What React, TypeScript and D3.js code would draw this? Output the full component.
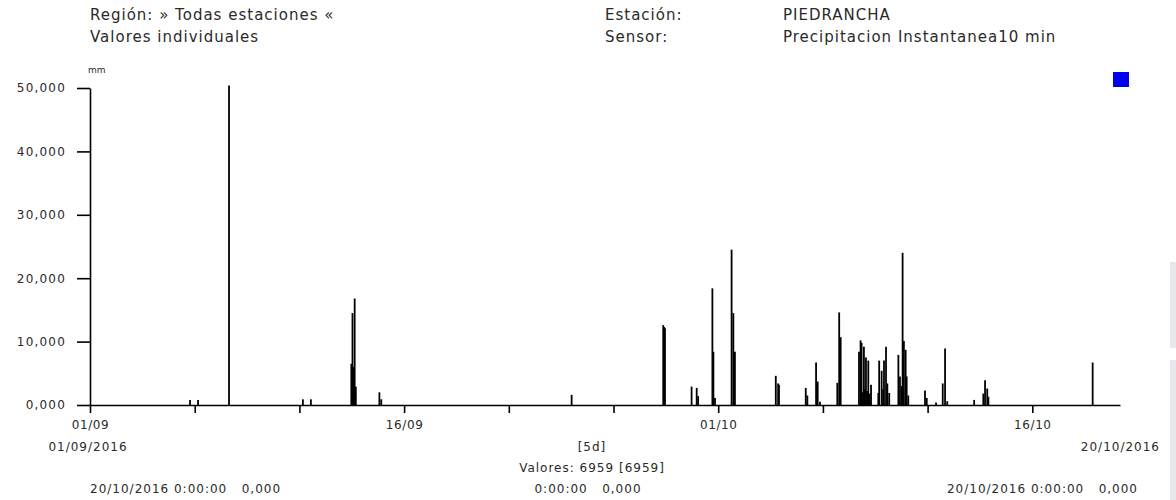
import { useEffect, useRef } from "react";
import * as d3 from "d3";

// precipitacion 10 min, PIEDRANCHA (solo valores > 0)
const fechas = [
  "2016-09-05 18:40", "2016-09-06 03:50", "2016-09-07 15:20", "2016-09-11 04:00", "2016-09-11 13:10",
  "2016-09-13 11:30", "2016-09-13 12:50", "2016-09-13 14:00", "2016-09-13 15:20", "2016-09-13 16:40",
  "2016-09-14 19:40", "2016-09-14 21:50", "2016-09-24 00:00",
  "2016-09-28 09:00", "2016-09-28 10:00", "2016-09-28 11:00",
  "2016-09-29 17:30", "2016-09-29 23:20", "2016-09-30 01:00",
  "2016-09-30 17:20", "2016-09-30 18:30", "2016-09-30 20:20",
  "2016-10-01 15:20", "2016-10-01 17:20", "2016-10-01 19:10",
  "2016-10-03 18:00", "2016-10-03 20:40", "2016-10-03 21:40",
  "2016-10-05 04:20", "2016-10-05 06:10", "2016-10-05 16:10", "2016-10-05 18:00", "2016-10-05 20:40",
  "2016-10-06 16:30", "2016-10-06 18:40", "2016-10-06 20:20",
  "2016-10-07 17:20", "2016-10-07 19:10", "2016-10-07 20:20", "2016-10-07 21:40", "2016-10-07 23:00",
  "2016-10-08 00:10", "2016-10-08 01:20", "2016-10-08 02:40", "2016-10-08 04:00", "2016-10-08 05:30",
  "2016-10-08 07:10", "2016-10-08 15:30", "2016-10-08 16:30", "2016-10-08 19:20", "2016-10-08 21:00",
  "2016-10-08 22:00", "2016-10-09 00:20", "2016-10-09 01:50", "2016-10-09 04:00",
  "2016-10-09 14:30", "2016-10-09 16:20", "2016-10-09 18:10", "2016-10-09 19:20", "2016-10-09 20:50",
  "2016-10-09 22:50", "2016-10-10 00:00", "2016-10-10 01:50",
  "2016-10-10 21:00", "2016-10-10 23:00", "2016-10-11 09:40",
  "2016-10-11 17:20", "2016-10-11 20:00", "2016-10-11 22:30",
  "2016-10-13 05:20", "2016-10-13 15:50", "2016-10-13 17:50", "2016-10-13 20:20", "2016-10-13 21:40",
  "2016-10-18 21:10",
];
const valores = [
  0.8, 0.8, 50.4, 0.9, 0.9,
  6.5, 14.5, 6.0, 16.8, 2.9,
  2.0, 0.9, 1.6,
  12.6, 12.3, 12.1,
  2.9, 2.7, 1.4,
  18.4, 8.4, 1.1,
  24.5, 14.5, 8.4,
  4.6, 3.4, 3.2,
  2.7, 1.5, 6.7, 3.7, 0.5,
  3.5, 14.6, 10.7,
  8.4, 10.2, 9.8, 2.0, 9.2,
  2.5, 7.5, 2.2, 7.0, 1.8,
  3.2, 1.9, 7.0, 5.4, 2.5,
  7.0, 9.2, 3.4, 1.9,
  7.9, 4.5, 3.0, 24.0, 10.1,
  8.7, 4.5, 1.5,
  2.3, 1.1, 0.4,
  3.4, 8.9, 0.6,
  0.8, 1.8, 3.9, 2.6, 1.3,
  6.7,
];

const yTicks = [0, 10, 20, 30, 40, 50];
const xTicks = [
  "2016-09-01", "2016-09-06", "2016-09-11", "2016-09-16", "2016-09-21",
  "2016-09-26", "2016-10-01", "2016-10-06", "2016-10-11", "2016-10-16",
];
const xTickLabels = ["01/09", "", "", "16/09", "", "", "01/10", "", "", "16/10"];

const App = () => {
  const svgRef = useRef<SVGSVGElement>(null);

  useEffect(() => {
    const svg = d3.select(svgRef.current);
    svg.selectAll("*").remove();

    const font = "'DejaVu Sans', Verdana, sans-serif";
    const ink = "#2a2a2a";
    const parse = d3.timeParse("%Y-%m-%d %H:%M");
    const parseDay = d3.timeParse("%Y-%m-%d");
    const es = d3.formatLocale({ decimal: ",", thousands: ".", grouping: [3], currency: ["", ""] });
    const fmt = es.format(".3f");

    const x = d3
      .scaleTime()
      .domain([parseDay("2016-09-01") as Date, parse("2016-10-20 04:30") as Date])
      .range([90, 1120]);
    const y = d3.scaleLinear().domain([0, 50]).range([405, 88]);

    const data = fechas.map((f, i) => ({ t: parse(f) as Date, v: valores[i] }));

    // header
    const head = svg.append("g").attr("font-family", font).attr("font-size", 15).attr("fill", ink).attr("letter-spacing", 1);
    head.append("text").attr("x", 90).attr("y", 20).text("Región: » Todas estaciones «");
    head.append("text").attr("x", 90).attr("y", 42).text("Valores individuales");
    head.append("text").attr("x", 605).attr("y", 20).text("Estación:");
    head.append("text").attr("x", 605).attr("y", 42).text("Sensor:");
    head.append("text").attr("x", 783).attr("y", 20).text("PIEDRANCHA");
    head.append("text").attr("x", 783).attr("y", 42).text("Precipitacion Instantanea10 min");

    svg.append("text")
      .attr("x", 88).attr("y", 73)
      .attr("font-family", font).attr("font-size", 9).attr("fill", ink)
      .text("mm");

    // spikes
    svg.append("g")
      .selectAll("line")
      .data(data)
      .enter()
      .append("line")
      .attr("x1", (d) => x(d.t))
      .attr("x2", (d) => x(d.t))
      .attr("y1", y(0))
      .attr("y2", (d) => y(d.v))
      .attr("stroke", "#000")
      .attr("stroke-width", 1.8);

    // y axis
    const yAxis = svg.append("g")
      .attr("transform", "translate(90,0)")
      .call(d3.axisLeft(y).tickValues(yTicks).tickFormat((d) => fmt(d as number)).tickSize(13).tickSizeOuter(0).tickPadding(11));
    yAxis.selectAll("text").attr("font-family", font).attr("font-size", 12).attr("fill", ink).attr("letter-spacing", 1.2);

    // x axis
    const xAxis = svg.append("g")
      .attr("transform", `translate(0,${y(0)})`)
      .call(
        d3.axisBottom(x)
          .tickValues(xTicks.map((d) => parseDay(d) as Date))
          .tickFormat((_, i) => xTickLabels[i])
          .tickSize(8)
          .tickSizeOuter(0)
          .tickPadding(7)
      );
    xAxis.selectAll("text").attr("font-family", font).attr("font-size", 12).attr("fill", ink).attr("letter-spacing", 0.6);
    svg.selectAll(".domain, .tick line").attr("stroke", "#000").attr("stroke-width", 1.6);

    // footer
    const foot = svg.append("g").attr("font-family", font).attr("font-size", 12).attr("fill", ink).attr("letter-spacing", 1);
    foot.append("text").attr("x", 88).attr("y", 451).attr("text-anchor", "middle").text("01/09/2016");
    foot.append("text").attr("x", 1160).attr("y", 451).attr("text-anchor", "end").text("20/10/2016");
    foot.append("text").attr("x", 592).attr("y", 451).attr("text-anchor", "middle").text("[5d]");
    foot.append("text").attr("x", 592).attr("y", 472).attr("text-anchor", "middle").text("Valores: 6959 [6959]");
    foot.append("text").attr("x", 90).attr("y", 493).attr("xml:space", "preserve").text("20/10/2016 0:00:00   0,000");
    foot.append("text").attr("x", 588).attr("y", 493).attr("text-anchor", "middle").attr("xml:space", "preserve").text("0:00:00   0,000");
    foot.append("text").attr("x", 1138).attr("y", 493).attr("text-anchor", "end").attr("xml:space", "preserve").text("20/10/2016 0:00:00   0,000");

    // legend marker + side bars
    svg.append("rect").attr("x", 1113).attr("y", 72).attr("width", 16).attr("height", 15).attr("fill", "#0000f0");
    svg.append("rect").attr("x", 1170).attr("y", 262).attr("width", 6).attr("height", 86).attr("fill", "#e6e8ec");
    svg.append("rect").attr("x", 1170).attr("y", 360).attr("width", 6).attr("height", 140).attr("fill", "#e6e8ec");
  }, []);

  return (
    <svg
      ref={svgRef}
      width={1176}
      height={500}
      style={{ position: "absolute", left: 0, top: 0, background: "#fff", display: "block" }}
    />
  );
};

export default App;
